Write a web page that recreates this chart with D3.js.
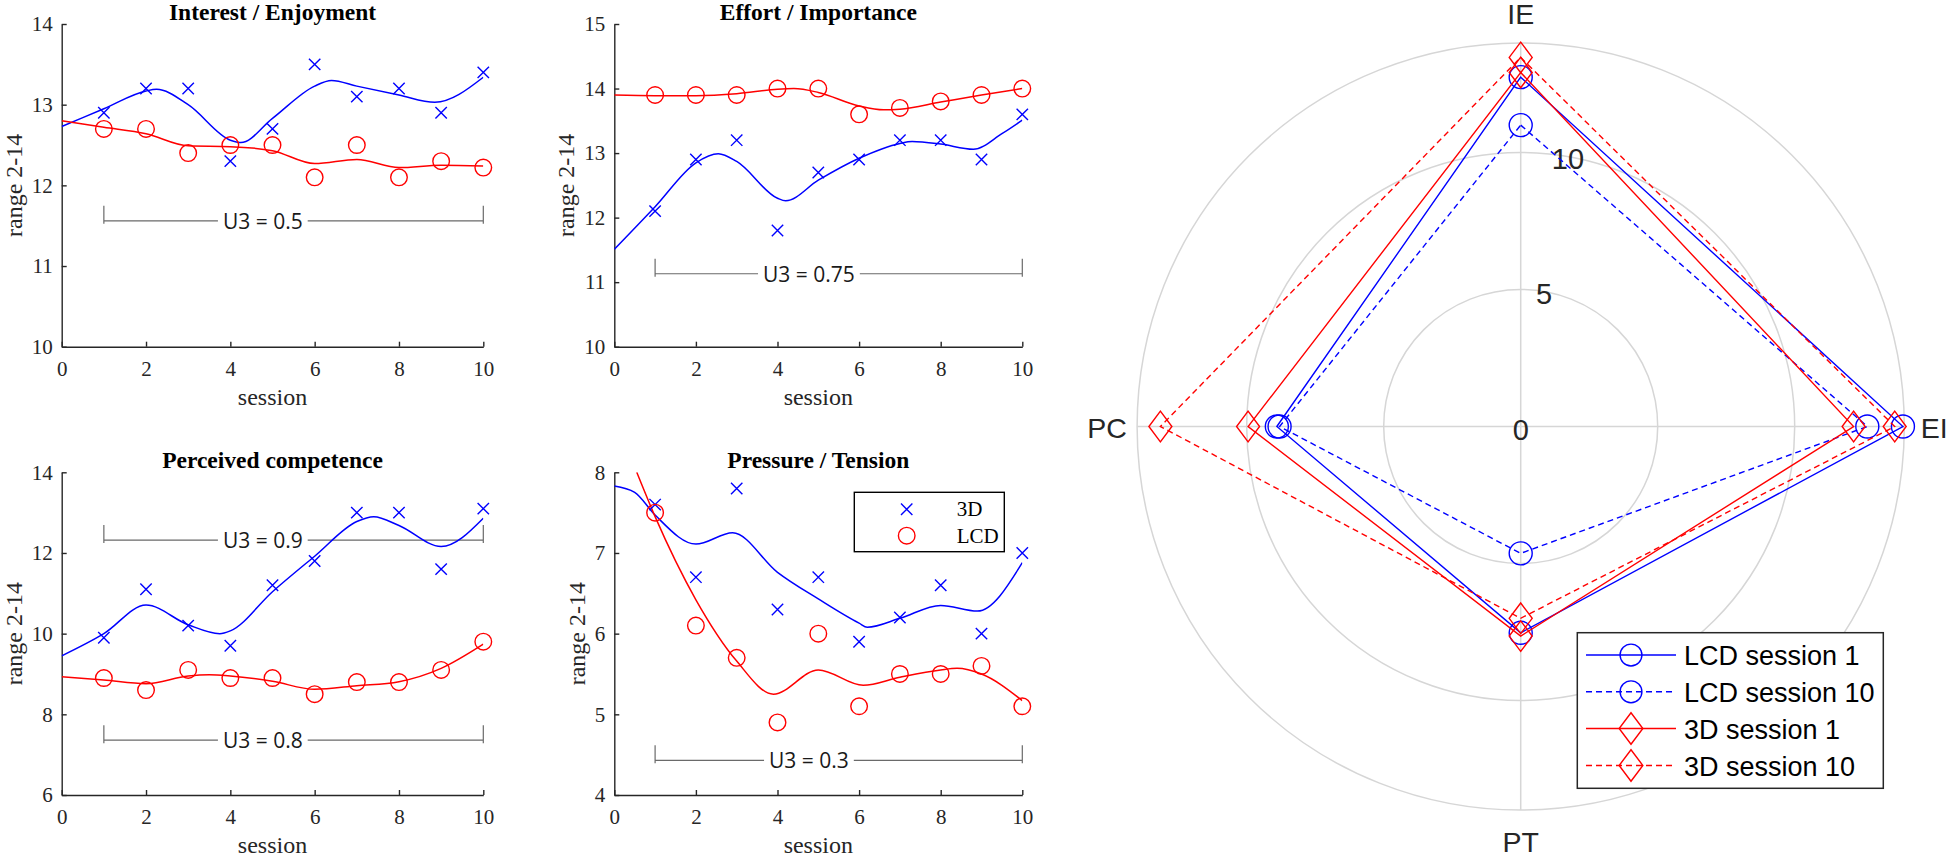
<!DOCTYPE html>
<html>
<head>
<meta charset="utf-8">
<script src="https://cdn.jsdelivr.net/npm/d3@7"></script>
<style>
  html, body { margin: 0; padding: 0; background: #fff; }
  svg { display: block; }
</style>
</head>
<body>
<svg id="chart" width="1946" height="857"></svg>
<script>
// ---------------- DATA ----------------
const sessions = [1, 2, 3, 4, 5, 6, 7, 8, 9, 10];
const xTicks = [0, 2, 4, 6, 8, 10];

// Interest / Enjoyment
const ie3D  = [12.9, 13.2, 13.2, 12.3, 12.7, 13.5, 13.1, 13.2, 12.9, 13.4];
const ieLCD = [12.7, 12.7, 12.4, 12.5, 12.5, 12.1, 12.5, 12.1, 12.3, 12.22];
const ieFit3D  = [[0,12.73],[1,12.95],[2,13.17],[2.25,13.19],[3,13.0],[4,12.56],[4.25,12.53],[5,12.83],[6,13.23],[6.4,13.30],[7,13.23],[8,13.12],[8.85,13.03],[10,13.34]];
const ieFitLCD = [[0,12.80],[1,12.72],[2,12.64],[3,12.49],[4,12.48],[5,12.43],[6,12.27],[7,12.32],[8,12.22],[9,12.25],[10,12.24]];
const ieTicks = [10, 11, 12, 13, 14];

// Effort / Importance
const ei3D  = [12.1, 12.9, 13.2, 11.8, 12.7, 12.9, 13.2, 13.2, 12.9, 13.6];
const eiLCD = [13.9, 13.9, 13.9, 14.0, 14.0, 13.6, 13.7, 13.8, 13.9, 14.0];
const eiFit3D  = [[0,11.51],[1,12.17],[2,12.85],[2.55,12.99],[3,12.87],[4,12.30],[4.2,12.26],[5,12.58],[6,12.92],[7,13.15],[7.3,13.18],[8,13.14],[8.8,13.06],[9.5,13.3],[10,13.51]];
const eiFitLCD = [[0,13.90],[1,13.89],[2,13.89],[3,13.92],[4,13.99],[4.4,14.0],[5,13.94],[6,13.73],[6.6,13.67],[7,13.68],[8,13.79],[9,13.90],[10,14.0]];
const eiTicks = [10, 11, 12, 13, 14, 15];

// Perceived competence
const pc3D  = [9.9, 11.1, 10.2, 9.7, 11.2, 11.8, 13.0, 13.0, 11.6, 13.1];
const pcLCD = [8.9, 8.6, 9.1, 8.9, 8.9, 8.5, 8.8, 8.8, 9.1, 9.8];
const pcFit3D  = [[0,9.45],[1,10.0],[2,10.71],[3,10.22],[3.75,10.0],[4,10.07],[5,11.04],[6,11.92],[7,12.78],[7.4,12.90],[8,12.68],[9,12.16],[10,12.86]];
const pcFitLCD = [[0,8.93],[1,8.85],[2,8.76],[3,8.95],[3.5,8.98],[4,8.95],[5,8.82],[6,8.62],[7,8.71],[8,8.81],[9,9.14],[10,9.74]];
const pcTicks = [6, 8, 10, 12, 14];

// Pressure / Tension
const pt3D  = [7.6, 6.7, 7.8, 6.3, 6.7, 5.9, 6.2, 6.6, 6.0, 7.0];
const ptLCD = [7.5, 6.1, 5.7, 4.9, 6.0, 5.1, 5.5, 5.5, 5.6, 5.1];
const ptFit3D  = [[0,7.83],[0.5,7.75],[1,7.47],[2,7.11],[2.9,7.25],[4,6.76],[5,6.43],[6,6.13],[6.2,6.08],[7,6.19],[8,6.35],[8.9,6.28],[10,6.88]];
const ptFitLCD = [[0.55,8.0],[1,7.45],[2,6.42],[3,5.66],[3.9,5.25],[5,5.55],[6.1,5.36],[7,5.46],[8,5.55],[8.4,5.57],[9,5.50],[10,5.17]];
const ptTicks = [4, 5, 6, 7, 8];

// U3 effect-size brackets
const u3Labels = ["U3 = 0.5", "U3 = 0.75", "U3 = 0.9", "U3 = 0.8", "U3 = 0.3"];
const u3Levels = [11.56, 11.13, 12.32, 7.36, 4.43];

const subTitles = ["Interest / Enjoyment", "Effort / Importance", "Perceived competence", "Pressure / Tension"];
const legendNames = ["3D", "LCD"];

// Radar (spider) chart
const radarAxes = ["IE", "EI", "PT", "PC"];
const radarTicks = [0, 5, 10];
const radarMax = 14;
const lcdSession1  = [12.75, 13.95, 7.53, 8.9];
const lcdSession10 = [11.0, 12.65, 4.63, 8.8];
const d3Session1   = [12.92, 12.15, 7.65, 9.95];
const d3Session10  = [13.47, 13.65, 7.0, 13.15];
const radarNames = ["LCD session 1", "LCD session 10", "3D session 1", "3D session 10"];

// ---------------- DRAW ----------------
const svg = d3.select("#chart");
const BLUE = "#0000ff", RED = "#ff0000", AX = "#262626";
const SERIF = "'Liberation Serif', 'Times New Roman', serif";
const SANS = "'Liberation Sans', Arial, sans-serif";

const panels = [
  { title: subTitles[0], x0: 61.7, x1: 483.3, y0: 24, y1: 346.7, dom: [10, 14], ticks: ieTicks,
    s3D: ie3D, sLCD: ieLCD, f3D: ieFit3D, fLCD: ieFitLCD, u3: [0] },
  { title: subTitles[1], x0: 614.3, x1: 1022.3, y0: 24, y1: 346.7, dom: [10, 15], ticks: eiTicks,
    s3D: ei3D, sLCD: eiLCD, f3D: eiFit3D, fLCD: eiFitLCD, u3: [1] },
  { title: subTitles[2], x0: 61.7, x1: 483.3, y0: 472.3, y1: 795, dom: [6, 14], ticks: pcTicks,
    s3D: pc3D, sLCD: pcLCD, f3D: pcFit3D, fLCD: pcFitLCD, u3: [2, 3] },
  { title: subTitles[3], x0: 614.3, x1: 1022.3, y0: 472.3, y1: 795, dom: [4, 8], ticks: ptTicks,
    s3D: pt3D, sLCD: ptLCD, f3D: ptFit3D, fLCD: ptFitLCD, u3: [4], legend: true }
];

function xMarker(g, cx, cy, h, color) {
  g.append("path")
    .attr("d", `M${cx-h},${cy-h}L${cx+h},${cy+h}M${cx-h},${cy+h}L${cx+h},${cy-h}`)
    .attr("stroke", color).attr("stroke-width", 1.4).attr("fill", "none");
}

panels.forEach((p, pi) => {
  const g = svg.append("g");
  const x = d3.scaleLinear().domain([0, 10]).range([p.x0, p.x1]);
  const y = d3.scaleLinear().domain(p.dom).range([p.y1, p.y0]);

  const clipId = "clip" + pi;
  svg.append("clipPath").attr("id", clipId).append("rect")
    .attr("x", p.x0).attr("y", p.y0).attr("width", p.x1 - p.x0).attr("height", p.y1 - p.y0);

  // axes
  const yAx = g.append("g").attr("transform", `translate(${p.x0},0)`)
    .call(d3.axisLeft(y).tickValues(p.ticks).tickFormat(d3.format("d")).tickSizeInner(-5).tickSizeOuter(0).tickPadding(9));
  const xAx = g.append("g").attr("transform", `translate(0,${p.y1})`)
    .call(d3.axisBottom(x).tickValues(xTicks).tickFormat(d3.format("d")).tickSizeInner(-5).tickSizeOuter(0).tickPadding(14));
  [yAx, xAx].forEach(a => {
    a.select(".domain").attr("stroke", AX).attr("stroke-width", 1.4);
    a.selectAll(".tick line").attr("stroke", AX).attr("stroke-width", 1.4);
    a.selectAll(".tick text").attr("fill", AX).style("font-family", SERIF).style("font-size", "21px");
  });

  // max tick label width for y-label position
  let maxW = 0;
  yAx.selectAll(".tick text").each(function () { maxW = Math.max(maxW, this.getComputedTextLength()); });

  g.append("text")
    .attr("transform", `translate(${p.x0 - maxW - 9 - 18},${(p.y0 + p.y1) / 2}) rotate(-90)`)
    .attr("text-anchor", "middle").attr("dominant-baseline", "central")
    .style("font-family", SERIF).style("font-size", "24px").attr("fill", AX)
    .text("range 2-14");

  g.append("text")
    .attr("x", (p.x0 + p.x1) / 2).attr("y", p.y1 + 58.3)
    .attr("text-anchor", "middle")
    .style("font-family", SERIF).style("font-size", "24px").attr("fill", AX)
    .text("session");

  g.append("text")
    .attr("x", (p.x0 + p.x1) / 2).attr("y", p.y0 - 4)
    .attr("text-anchor", "middle")
    .style("font-family", SERIF).style("font-size", "23.5px").style("font-weight", "bold").attr("fill", "#000")
    .text(p.title);

  // U3 brackets
  p.u3.forEach(k => {
    const yy = y(u3Levels[k]);
    const bg = g.append("g");
    bg.append("path")
      .attr("d", `M${x(1)},${yy - 15}V${yy + 3}M${x(1)},${yy}H${x(10)}M${x(10)},${yy - 15}V${yy + 3}`)
      .attr("stroke", "#6a6a6a").attr("stroke-width", 1.2).attr("fill", "none");
    const t = bg.append("text")
      .attr("x", x(4.77)).attr("y", yy)
      .attr("text-anchor", "middle").attr("dominant-baseline", "central")
      .style("font-family", "'Open Sans', 'Noto Sans', sans-serif").style("font-size", "21px")
      .attr("fill", "#1a1a1a").text(u3Labels[k]);
    const bb = t.node().getBBox();
    bg.insert("rect", "text")
      .attr("x", bb.x - 5).attr("y", yy - 6).attr("width", bb.width + 10).attr("height", 12)
      .attr("fill", "#fff");
  });

  // fitted curves
  const line = d3.line().x(d => x(d[0])).y(d => y(d[1])).curve(d3.curveMonotoneX);
  const cg = g.append("g").attr("clip-path", `url(#${clipId})`);
  cg.append("path").datum(p.f3D).attr("d", line).attr("fill", "none").attr("stroke", BLUE).attr("stroke-width", 1.5);
  cg.append("path").datum(p.fLCD).attr("d", line).attr("fill", "none").attr("stroke", RED).attr("stroke-width", 1.5);

  // markers
  sessions.forEach((s, i) => {
    xMarker(g, x(s), y(p.s3D[i]), 5.7, BLUE);
    g.append("circle").attr("cx", x(s)).attr("cy", y(p.sLCD[i])).attr("r", 8.3)
      .attr("fill", "none").attr("stroke", RED).attr("stroke-width", 1.4);
  });

  if (p.legend) {
    const lg = g.append("g");
    lg.append("rect").attr("x", 854.3).attr("y", 492.3).attr("width", 150).attr("height", 59.4)
      .attr("fill", "#fff").attr("stroke", "#000").attr("stroke-width", 1.4);
    xMarker(lg, 906.7, 509.3, 5.7, BLUE);
    lg.append("circle").attr("cx", 906.7).attr("cy", 535.7).attr("r", 8.3)
      .attr("fill", "none").attr("stroke", RED).attr("stroke-width", 1.4);
    legendNames.forEach((n, i) => {
      lg.append("text").attr("x", 956.7).attr("y", [509.3, 535.7][i])
        .attr("dominant-baseline", "central")
        .style("font-family", SERIF).style("font-size", "21px").attr("fill", "#000").text(n);
    });
  }
});

// ---------------- RADAR ----------------
const cx = 1520.7, cy = 426.5;
const r = d3.scaleLinear().domain([0, radarMax]).range([0, 383.6]);
const angles = [-Math.PI / 2, 0, Math.PI / 2, Math.PI]; // IE up, EI right, PT down, PC left
const rg = svg.append("g");
const GRID = "#d6d6d6";

[5, 10, radarMax].forEach(v => {
  rg.append("circle").attr("cx", cx).attr("cy", cy).attr("r", r(v))
    .attr("fill", "none").attr("stroke", GRID).attr("stroke-width", 1.5);
});
rg.append("line").attr("x1", cx - r(radarMax)).attr("x2", cx + r(radarMax)).attr("y1", cy).attr("y2", cy)
  .attr("stroke", GRID).attr("stroke-width", 1.5);
rg.append("line").attr("y1", cy - r(radarMax)).attr("y2", cy + r(radarMax)).attr("x1", cx).attr("x2", cx)
  .attr("stroke", GRID).attr("stroke-width", 1.5);

// radial tick labels
const labAng = -80 * Math.PI / 180;
radarTicks.forEach(v => {
  const rr = r(v) - (v > 0 ? 2 : 0);
  rg.append("text")
    .attr("x", cx + rr * Math.cos(labAng)).attr("y", cy + rr * Math.sin(labAng) + (v === 0 ? 3.5 : 0))
    .attr("text-anchor", "middle").attr("dominant-baseline", "central")
    .style("font-family", SANS).style("font-size", "29px").attr("fill", AX).text(v);
});

// axis labels
radarAxes.forEach((a, i) => {
  const rr = r(radarMax) + 30;
  rg.append("text")
    .attr("x", cx + rr * Math.cos(angles[i])).attr("y", cy + rr * Math.sin(angles[i]) + 1.5)
    .attr("text-anchor", "middle").attr("dominant-baseline", "central")
    .style("font-family", SANS).style("font-size", "28.5px").attr("fill", AX).text(a);
});

const radarSeries = [
  { vals: lcdSession1,  color: BLUE, dash: null,  marker: "circle" },
  { vals: lcdSession10, color: BLUE, dash: "6,4", marker: "circle" },
  { vals: d3Session1,   color: RED,  dash: null,  marker: "diamond" },
  { vals: d3Session10,  color: RED,  dash: "6,4", marker: "diamond" }
];

function drawMarker(g, type, px, py, color, s) {
  if (type === "circle") {
    g.append("circle").attr("cx", px).attr("cy", py).attr("r", 11.5 * s)
      .attr("fill", "none").attr("stroke", color).attr("stroke-width", 1.4);
  } else {
    const hw = 11.5 * s, hh = 15.3 * s;
    g.append("path").attr("d", `M${px},${py - hh}L${px + hw},${py}L${px},${py + hh}L${px - hw},${py}Z`)
      .attr("fill", "none").attr("stroke", color).attr("stroke-width", 1.4);
  }
}

const radarLine = d3.lineRadial().angle((d, i) => angles[i] + Math.PI / 2).radius(d => r(d)).curve(d3.curveLinearClosed);
radarSeries.forEach(sr => {
  const sg = rg.append("g");
  sg.append("path").datum(sr.vals).attr("d", radarLine)
    .attr("transform", `translate(${cx},${cy})`)
    .attr("fill", "none").attr("stroke", sr.color).attr("stroke-width", 1.4)
    .attr("stroke-dasharray", sr.dash);
  sr.vals.forEach((v, i) => {
    drawMarker(sg, sr.marker, cx + r(v) * Math.cos(angles[i]), cy + r(v) * Math.sin(angles[i]), sr.color, 1);
  });
});

// radar legend
const lgx = 1577.3, lgy = 632.7;
const leg = svg.append("g");
leg.append("rect").attr("x", lgx).attr("y", lgy).attr("width", 306).attr("height", 155.6)
  .attr("fill", "#fff").attr("stroke", AX).attr("stroke-width", 1.5);
const rowY = [655, 691.8, 728.5, 765.5];
radarSeries.forEach((sr, i) => {
  leg.append("line").attr("x1", 1586).attr("x2", 1676).attr("y1", rowY[i]).attr("y2", rowY[i])
    .attr("stroke", sr.color).attr("stroke-width", 1.4).attr("stroke-dasharray", sr.dash);
  drawMarker(leg, sr.marker, 1631, rowY[i], sr.color, sr.marker === "circle" ? 0.95 : 1.03);
  leg.append("text").attr("x", 1684).attr("y", rowY[i] + 1).attr("dominant-baseline", "central")
    .style("font-family", SANS).style("font-size", "27px").attr("fill", "#000").text(radarNames[i]);
});
</script>
</body>
</html>
